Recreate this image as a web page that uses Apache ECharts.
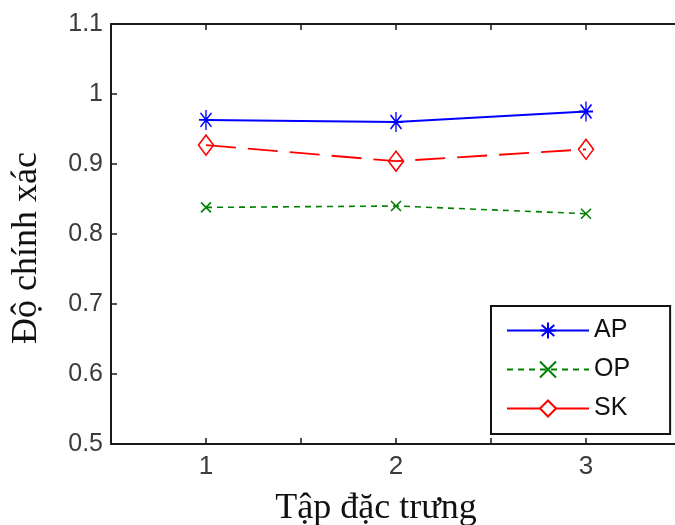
<!DOCTYPE html>
<html>
<head>
<meta charset="utf-8">
<title>Độ chính xác theo tập đặc trưng</title>
<script src="https://cdn.jsdelivr.net/npm/echarts@6/dist/echarts.min.js"></script>
<style>
  html, body { margin: 0; padding: 0; background: #fff; }
  #chart { width: 675px; height: 525px; }
</style>
</head>
<body>
<div id="chart"></div>
<script>
// Feature sets on the x axis
const featureSets = [1, 2, 3];

// Accuracy for each method
const apValues = [0.963, 0.960, 0.975];
const opValues = [0.838, 0.840, 0.829];
const skValues = [0.927, 0.904, 0.921];

// Axis ticks
const xTicks = [0.5, 1, 1.5, 2, 2.5, 3, 3.5];
const yTicks = [0.5, 0.6, 0.7, 0.8, 0.9, 1.0, 1.1];

const seriesNames = ['AP', 'OP', 'SK'];

const pairs = vals => featureSets.map((x, i) => [x, vals[i]]);

// MATLAB-style marker shapes
const asteriskPath = 'path://M7 0L7 20M0 10L14 10M1.5 3L12.5 17M12.5 3L1.5 17';
const crossPath = 'path://M0 0L10 10M10 0L0 10';

const axisColor = '#1a1a1a';
const tickLabelColor = '#3c3c3c';

const boxAxis = {
  type: 'value',
  axisLine: { show: true, onZero: false, lineStyle: { color: axisColor, width: 2 } },
  axisTick: { show: true, inside: true, length: 6, lineStyle: { color: axisColor, width: 1.5 } },
  splitLine: { show: false }
};

const chart = echarts.init(document.getElementById('chart'), null, { renderer: 'canvas' });

chart.setOption({
  animation: false,
  backgroundColor: '#ffffff',
  grid: {
    left: 111, top: 24, width: 570, height: 420,
    containLabel: false,
    outerBoundsMode: 'none'
  },
  xAxis: [
    Object.assign({}, boxAxis, {
      position: 'bottom',
      min: xTicks[0],
      max: xTicks[xTicks.length - 1],
      interval: xTicks[1] - xTicks[0],
      axisLabel: {
        margin: 10,
        fontFamily: 'Liberation Sans, Arial, sans-serif',
        fontSize: 26,
        color: tickLabelColor,
        formatter: v => (featureSets.indexOf(v) >= 0 ? String(v) : '')
      },
      name: 'Tập đặc trưng',
      nameLocation: 'middle',
      nameGap: 47,
      nameTextStyle: {
        fontFamily: 'Liberation Serif, Times New Roman, serif',
        fontSize: 36,
        color: '#111',
        padding: [0, 40, 0, 0]
      }
    }),
    Object.assign({}, boxAxis, {
      position: 'top',
      min: xTicks[0],
      max: xTicks[xTicks.length - 1],
      interval: xTicks[1] - xTicks[0],
      axisLabel: { show: false }
    })
  ],
  yAxis: [
    Object.assign({}, boxAxis, {
      position: 'left',
      min: yTicks[0],
      max: yTicks[yTicks.length - 1],
      interval: 0.1,
      axisLabel: {
        margin: 8,
        fontFamily: 'Liberation Sans, Arial, sans-serif',
        fontSize: 25,
        color: tickLabelColor,
        formatter: v => String(Math.round(v * 10) / 10)
      },
      name: 'Độ chính xác',
      nameLocation: 'middle',
      nameGap: 66,
      nameTextStyle: {
        fontFamily: 'Liberation Serif, Times New Roman, serif',
        fontSize: 36,
        color: '#111',
        padding: [0, 28, 0, 0]
      }
    }),
    Object.assign({}, boxAxis, {
      position: 'right',
      min: yTicks[0],
      max: yTicks[yTicks.length - 1],
      interval: 0.1,
      axisLabel: { show: false }
    })
  ],
  legend: {
    orient: 'vertical',
    left: 491,
    top: 306,
    padding: [12, 40, 13, 15],
    itemGap: 14,
    itemWidth: 82,
    itemHeight: 20,
    borderColor: '#111',
    borderWidth: 2,
    backgroundColor: '#fff',
    textStyle: {
      fontFamily: 'Liberation Sans, Arial, sans-serif',
      fontSize: 25,
      color: '#111'
    },
    data: [
      { name: seriesNames[0], lineStyle: { type: 'solid' } },
      { name: seriesNames[1] },
      { name: seriesNames[2], lineStyle: { type: 'solid' }, itemStyle: { color: '#fff' } }
    ]
  },
  series: [
    {
      name: seriesNames[0],
      type: 'line',
      data: pairs(apValues),
      symbol: asteriskPath,
      symbolSize: [14, 20],
      lineStyle: { color: '#0000ff', width: 2, type: 'solid' },
      itemStyle: { color: '#0000ff', borderColor: '#0000ff', borderWidth: 1.6 }
    },
    {
      name: seriesNames[1],
      type: 'line',
      data: pairs(opValues),
      symbol: crossPath,
      symbolSize: [10, 10],
      lineStyle: { color: '#008000', width: 1.6, type: [6, 5] },
      itemStyle: { color: '#008000', borderColor: '#008000', borderWidth: 1.6 }
    },
    {
      name: seriesNames[2],
      type: 'line',
      data: pairs(skValues),
      symbol: 'diamond',
      symbolSize: [15, 20],
      lineStyle: { color: '#ff0000', width: 1.8, type: [30, 12] },
      itemStyle: { color: 'rgba(255,255,255,0)', borderColor: '#ff0000', borderWidth: 1.6 }
    }
  ]
});
</script>
</body>
</html>
